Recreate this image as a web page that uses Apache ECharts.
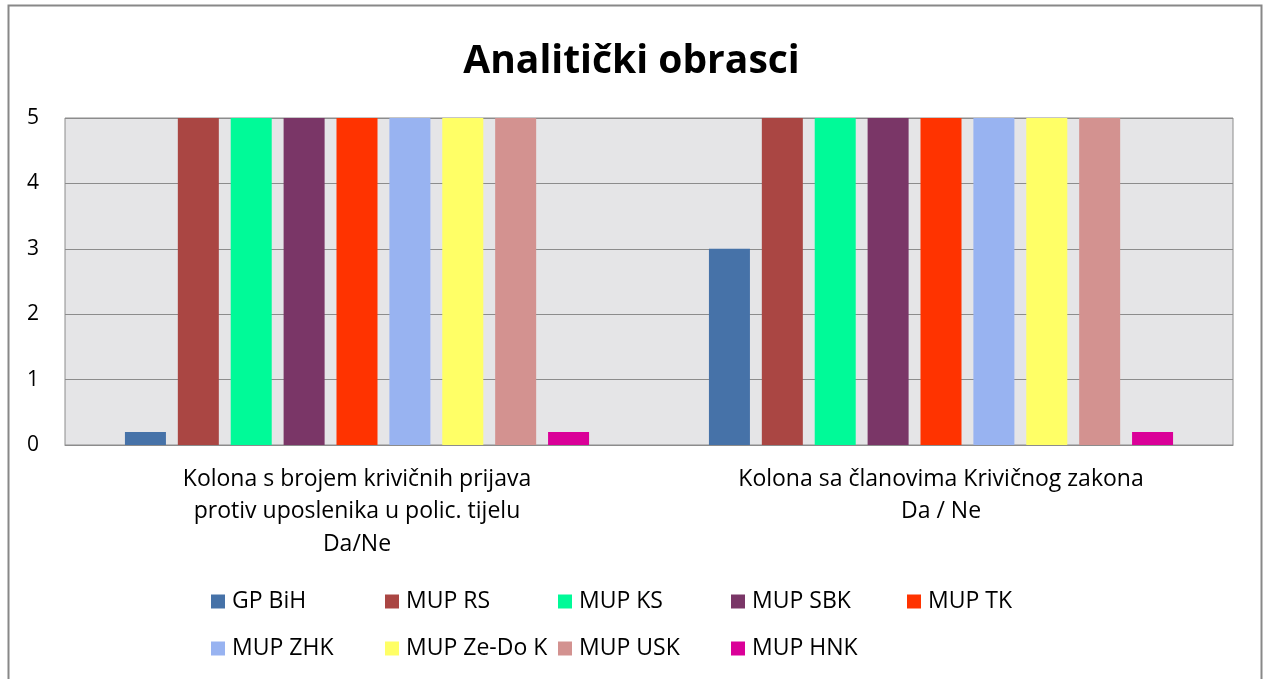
<!DOCTYPE html>
<html>
<head>
<meta charset="utf-8">
<script src="https://cdn.jsdelivr.net/npm/echarts@6/dist/echarts.min.js"></script>
<style>
  html, body { margin: 0; padding: 0; background: #fff; }
  #chart { width: 1263px; height: 679px; }
</style>
</head>
<body>
<div id="chart"></div>
<script>
const categories = [
  "Kolona s brojem krivičnih prijava\nprotiv uposlenika u polic. tijelu\nDa/Ne",
  "Kolona sa članovima Krivičnog zakona\nDa / Ne"
];
const seriesNames = [
  "GP BiH", "MUP RS", "MUP KS", "MUP SBK", "MUP TK",
  "MUP ZHK", "MUP Ze-Do K", "MUP USK", "MUP HNK"
];
const seriesColors = [
  "#4672a8", "#aa4643", "#00fa98", "#7a3667", "#ff3300",
  "#98b3f1", "#ffff66", "#d39290", "#da0098"
];
// one row per series: [first column, second column]
const seriesValues = [
  [0.2, 3],
  [5, 5],
  [5, 5],
  [5, 5],
  [5, 5],
  [5, 5],
  [5, 5],
  [5, 5],
  [0.2, 0.2]
];
const yTicks = [0, 1, 2, 3, 4, 5];

const FONT = "Open Sans";
const chart = echarts.init(document.getElementById("chart"));

const series = seriesNames.map((name, i) => ({
  name: name,
  type: "bar",
  data: seriesValues[i],
  barWidth: 41,
  barGap: "29%",
  itemStyle: { color: seriesColors[i] },
}));

// legend is laid out as a 5 + 4 grid, one legend block per item
const legendCols = [211, 385, 558, 731, 907];
const legendRows = [601, 648];
const legends = seriesNames.map((name, i) => {
  const row = i < 5 ? 0 : 1;
  const col = i < 5 ? i : i - 5;
  return {
    data: [name],
    left: legendCols[col],
    top: legendRows[row] - 11,
    padding: 0,
    itemWidth: 14,
    itemHeight: 14,
    icon: "rect",
    textStyle: {
      fontFamily: FONT,
      fontSize: 23,
      color: "#000",
      padding: [0, 0, 0, 2],
    },
  };
});

const option = {
  backgroundColor: "#fff",
  animation: false,
  title: {
    text: "Analitički obrasci",
    left: "center",
    top: 37,
    textStyle: {
      fontFamily: FONT,
      fontSize: 39,
      fontWeight: "bold",
      color: "#000",
    },
  },
  graphic: [
    {
      type: "rect",
      shape: { x: 8.5, y: 5.5, width: 1253, height: 720 },
      style: { fill: null, stroke: "#888", lineWidth: 2 },
      silent: true,
    },
  ],
  legend: legends,
  grid: {
    left: 65,
    right: 30,
    top: 118,
    height: 327,
    show: true,
    backgroundColor: "#e5e5e7",
    borderColor: "#8c8c8c",
    borderWidth: 1,
  },
  xAxis: {
    type: "category",
    data: categories,
    axisLine: { lineStyle: { color: "#8c8c8c" } },
    axisTick: { show: false },
    axisLabel: {
      fontFamily: FONT,
      fontSize: 23,
      color: "#000",
      lineHeight: 32.5,
      margin: 18,
      interval: 0,
    },
  },
  yAxis: {
    type: "value",
    min: yTicks[0],
    max: yTicks[yTicks.length - 1],
    interval: 1,
    axisLine: { show: false },
    axisTick: { show: false },
    splitLine: { lineStyle: { color: "#8c8c8c", width: 1 } },
    axisLabel: {
      fontFamily: FONT,
      fontSize: 21,
      color: "#000",
      margin: 26,
    },
  },
  series: series,
};

chart.setOption(option);
</script>
</body>
</html>
